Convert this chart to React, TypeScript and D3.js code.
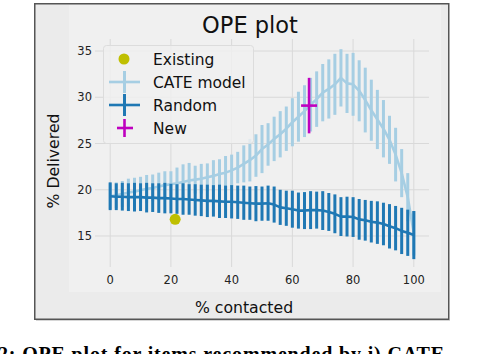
import React, { useEffect, useRef } from 'react';
import * as d3 from 'd3';

// % contacted, 0..100 step 2
const contacted = [
  0, 2, 4, 6, 8, 10, 12, 14, 16, 18, 20, 22, 24, 26, 28, 30, 32, 34, 36, 38, 40, 42, 44, 46, 48, 50,
  52, 54, 56, 58, 60, 62, 64, 66, 68, 70, 72, 74, 76, 78, 80, 82, 84, 86, 88, 90, 92, 94, 96, 98, 100,
];

const cateMean = [
  19.3, 19.4, 19.55, 19.7, 19.8, 19.95, 20.1, 20.2, 20.35, 20.5, 20.6, 20.7, 20.85, 21.0, 21.1, 21.2,
  21.35, 21.5, 21.7, 21.85, 22.1, 22.4, 22.8, 23.2, 23.7, 24.4, 24.9, 25.5, 26.0, 26.6, 27.3, 27.9,
  28.5, 29.2, 29.8, 30.5, 30.9, 31.4, 32.1, 31.5, 31.4, 30.7, 29.7, 28.6, 27.6, 26.6, 25.4, 23.8,
  21.8, 19.2, 15.3,
];
const cateErr = [
  1.4, 1.4, 1.4, 1.5, 1.5, 1.45, 1.5, 1.45, 1.5, 1.5, 1.4, 1.7, 1.9, 1.9, 1.5, 1.6, 1.5, 1.7, 1.6,
  1.8, 1.7, 1.7, 2.0, 2.3, 2.3, 2.6, 2.3, 2.4, 2.5, 2.4, 2.6, 2.7, 2.8, 2.9, 3.0, 3.1, 3.2, 3.3, 3.1,
  3.2, 3.4, 3.3, 3.5, 3.3, 3.2, 3.1, 2.6, 2.9, 2.6, 2.6, 2.4,
];

const randomMean = [
  19.3, 19.25, 19.25, 19.2, 19.2, 19.2, 19.15, 19.15, 19.1, 19.1, 19.05, 19.0, 19.0, 18.95, 18.9,
  18.85, 18.8, 18.8, 18.75, 18.7, 18.7, 18.65, 18.6, 18.55, 18.5, 18.5, 18.55, 18.4, 18.1, 18.0,
  17.9, 17.75, 17.75, 17.8, 17.8, 17.75, 17.6, 17.4, 17.1, 17.1, 17.05, 16.8, 16.7, 16.55, 16.45,
  16.3, 16.05, 15.85, 15.55, 15.35, 15.1,
];
const randomErr = [
  1.5, 1.45, 1.5, 1.5, 1.55, 1.5, 1.6, 1.55, 1.6, 1.65, 1.6, 1.6, 1.7, 1.65, 1.7, 1.7, 1.75, 1.7,
  1.8, 1.75, 1.8, 1.8, 1.85, 1.8, 1.9, 1.85, 1.9, 1.95, 1.9, 1.9, 2.0, 1.95, 2.0, 2.05, 2.0, 2.1,
  2.05, 2.1, 2.1, 2.15, 2.15, 2.2, 2.2, 2.25, 2.3, 2.3, 2.4, 2.4, 2.5, 2.5, 2.6,
];

const existing = { x: 21.4, y: 16.8 };
const newPoint = { x: 65.5, y: 29.1, err: 3.0 };

const xTicks = [0, 20, 40, 60, 80, 100];
const yTicks = [15, 20, 25, 30, 35];
const legendLabels = ['Existing', 'CATE model', 'Random', 'New'];

const LIGHT = '#a6cee3';
const DARK = '#1f78b4';
const MAGENTA = '#bf00bf';
const OLIVE = '#bfbf00';
const FONT = 'DejaVu Sans, sans-serif';

const App = () => {
  const svgRef = useRef<SVGSVGElement>(null);

  useEffect(() => {
    const svg = d3.select(svgRef.current);
    svg.selectAll('*').remove();

    const x = d3.scaleLinear().domain([-5, 105]).range([95, 429]);
    const y = d3.scaleLinear().domain([11.65, 36.3]).range([267, 39]);

    // figure frame
    svg.append('line').attr('x1', 36).attr('x2', 450).attr('y1', 320.5).attr('y2', 320.5)
      .attr('stroke', '#d6d6d6').attr('stroke-width', 1);
    svg.append('rect').attr('x', 34.75).attr('y', 3.75).attr('width', 414).attr('height', 315.5)
      .attr('fill', '#ebebeb').attr('stroke', '#555').attr('stroke-width', 1.5);
    svg.append('rect').attr('x', 69).attr('y', 5).attr('width', 372).attr('height', 287)
      .attr('fill', '#f0f0f0');

    // grid
    const grid = svg.append('g').attr('stroke', '#d9d9d9').attr('stroke-width', 1);
    grid.selectAll('.gx').data(xTicks).join('line')
      .attr('x1', (d) => x(d)).attr('x2', (d) => x(d)).attr('y1', 39).attr('y2', 267);
    grid.selectAll('.gy').data(yTicks).join('line')
      .attr('x1', 95).attr('x2', 429).attr('y1', (d) => y(d)).attr('y2', (d) => y(d));

    // tick labels
    svg.append('g').selectAll('text').data(xTicks).join('text')
      .attr('x', (d) => x(d)).attr('y', 284).attr('text-anchor', 'middle')
      .attr('font-family', FONT).attr('font-size', 11.5).attr('fill', '#222')
      .text((d) => d);
    svg.append('g').selectAll('text').data(yTicks).join('text')
      .attr('x', 92).attr('y', (d) => y(d) + 4.2).attr('text-anchor', 'end')
      .attr('font-family', FONT).attr('font-size', 11.5).attr('fill', '#222')
      .text((d) => d);

    const series = (mean: number[], err: number[], color: string) => {
      const g = svg.append('g');
      g.selectAll('line').data(contacted).join('line')
        .attr('x1', (d) => x(d)).attr('x2', (d) => x(d))
        .attr('y1', (d, i) => y(mean[i] - err[i])).attr('y2', (d, i) => y(mean[i] + err[i]))
        .attr('stroke', color).attr('stroke-width', 3);
      const line = d3.line<number>().x((d) => x(d)).y((d, i) => y(mean[i]));
      g.append('path').attr('d', line(contacted)).attr('fill', 'none')
        .attr('stroke', color).attr('stroke-width', 2.6).attr('stroke-linejoin', 'round');
    };

    series(cateMean, cateErr, LIGHT);
    series(randomMean, randomErr, DARK);

    // existing
    svg.append('circle').attr('cx', x(existing.x)).attr('cy', y(existing.y)).attr('r', 5.5)
      .attr('fill', OLIVE);

    // new
    const ng = svg.append('g').attr('stroke', MAGENTA).attr('stroke-width', 2.6);
    ng.append('line').attr('x1', x(newPoint.x)).attr('x2', x(newPoint.x))
      .attr('y1', y(newPoint.y - newPoint.err)).attr('y2', y(newPoint.y + newPoint.err));
    ng.append('line').attr('x1', x(newPoint.x) - 8).attr('x2', x(newPoint.x) + 8)
      .attr('y1', y(newPoint.y)).attr('y2', y(newPoint.y));

    // legend
    const lg = svg.append('g');
    lg.append('rect').attr('x', 103.5).attr('y', 45.5).attr('width', 150).attr('height', 98)
      .attr('rx', 3).attr('fill', '#f0f0f0').attr('fill-opacity', 0.8)
      .attr('stroke', '#dcdcdc').attr('stroke-width', 1);
    const rowY = (i: number) => 59 + i * 23;
    lg.append('circle').attr('cx', 124).attr('cy', rowY(0)).attr('r', 5.5).attr('fill', OLIVE);
    [LIGHT, DARK].forEach((c, k) => {
      const yy = rowY(k + 1);
      lg.append('line').attr('x1', 109).attr('x2', 140).attr('y1', yy).attr('y2', yy)
        .attr('stroke', c).attr('stroke-width', 2.6);
      lg.append('line').attr('x1', 124.5).attr('x2', 124.5).attr('y1', yy - 11).attr('y2', yy + 11)
        .attr('stroke', c).attr('stroke-width', 3);
    });
    const ny = rowY(3);
    lg.append('line').attr('x1', 117).attr('x2', 133).attr('y1', ny).attr('y2', ny)
      .attr('stroke', MAGENTA).attr('stroke-width', 2.6);
    lg.append('line').attr('x1', 124.5).attr('x2', 124.5).attr('y1', ny - 9).attr('y2', ny + 9)
      .attr('stroke', MAGENTA).attr('stroke-width', 2.6);
    lg.selectAll('text').data(legendLabels).join('text')
      .attr('x', 153).attr('y', (d, i) => rowY(i) + 5.6)
      .attr('font-family', FONT).attr('font-size', 15.5).attr('fill', '#111')
      .text((d) => d);

    // titles
    svg.append('text').attr('x', 250).attr('y', 33).attr('text-anchor', 'middle')
      .attr('font-family', FONT).attr('font-size', 22.5).attr('fill', '#111').text('OPE plot');
    svg.append('text').attr('x', 244).attr('y', 313).attr('text-anchor', 'middle')
      .attr('font-family', FONT).attr('font-size', 15.7).attr('fill', '#111').text('% contacted');
    svg.append('text').attr('transform', 'translate(59,161) rotate(-90)').attr('text-anchor', 'middle')
      .attr('font-family', FONT).attr('font-size', 15.7).attr('fill', '#111').text('% Delivered');

    // caption, cut by the page edge
    svg.append('text').attr('x', -2).attr('y', 361)
      .attr('font-family', 'Liberation Serif, serif').attr('font-weight', 'bold').attr('font-size', 20)
      .attr('textLength', 446).attr('lengthAdjust', 'spacing').attr('fill', '#000')
      .text('2: OPE plot for items recommended by i) CATE');
  }, []);

  return (
    <svg
      ref={svgRef}
      width={478}
      height={354}
      style={{ position: 'absolute', left: 0, top: 0, background: '#fff' }}
    />
  );
};

export default App;
